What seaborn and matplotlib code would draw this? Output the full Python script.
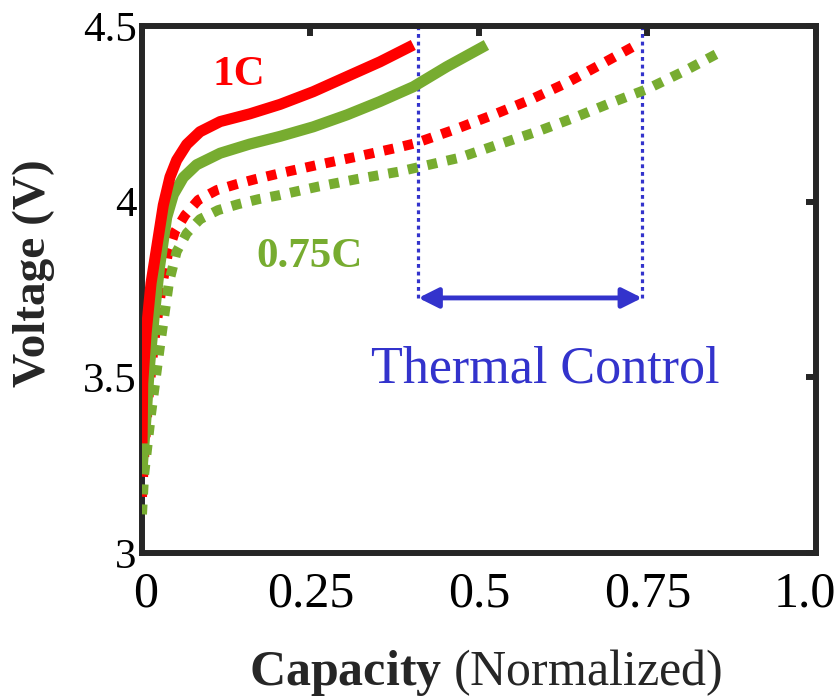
import numpy as np
import pandas as pd
import matplotlib
matplotlib.use("Agg")
import matplotlib.pyplot as plt
import matplotlib.transforms as mtransforms
import seaborn as sns

# Charge curves: voltage vs normalized capacity
cap_1c = [0.0, 0.001, 0.006, 0.0134, 0.0218, 0.0316, 0.0415, 0.0514, 0.0663,
          0.086, 0.116, 0.160, 0.205, 0.254, 0.304, 0.353, 0.4025]
volt_1c = [3.312, 3.483, 3.625, 3.768, 3.87, 3.99, 4.07, 4.118, 4.163,
           4.199, 4.228, 4.250, 4.277, 4.313, 4.356, 4.398, 4.446]

cap_075c = [0.0, 0.006, 0.011, 0.018, 0.0257, 0.0366, 0.0465, 0.0613, 0.081,
            0.116, 0.160, 0.205, 0.254, 0.304, 0.353, 0.4025, 0.452, 0.511]
volt_075c = [3.236, 3.388, 3.53, 3.673, 3.81, 3.955, 4.02, 4.069, 4.105,
             4.138, 4.164, 4.186, 4.213, 4.247, 4.285, 4.327, 4.384, 4.446]

cap_1c_tc = [0.0, 0.004, 0.010, 0.018, 0.028, 0.039, 0.049, 0.064, 0.0836,
             0.111, 0.1405, 0.170, 0.205, 0.259, 0.3185, 0.375, 0.405, 0.462,
             0.521, 0.576, 0.630, 0.684, 0.739]
volt_1c_tc = [3.16, 3.30, 3.45, 3.60, 3.74, 3.858, 3.915, 3.962, 4.005,
              4.033, 4.050, 4.065, 4.081, 4.104, 4.128, 4.152, 4.166, 4.204,
              4.247, 4.29, 4.338, 4.394, 4.452]

cap_075c_tc = [0.0, 0.003, 0.013, 0.026, 0.040, 0.0514, 0.0663, 0.086, 0.113,
               0.143, 0.1726, 0.205, 0.2616, 0.321, 0.380, 0.41, 0.469, 0.526,
               0.5856, 0.640, 0.694, 0.749, 0.808, 0.862]
volt_075c_tc = [3.11, 3.22, 3.39, 3.58, 3.77, 3.858, 3.910, 3.950, 3.976,
                3.993, 4.007, 4.019, 4.043, 4.065, 4.085, 4.098, 4.124, 4.161,
                4.199, 4.238, 4.28, 4.32, 4.375, 4.43]

# Thermal-control window
tc_start = 0.41
tc_end = 0.742
tc_arrow_v = 3.726

x_ticks = [0, 0.25, 0.5, 0.75, 1.0]
x_tick_labels = ["0", "0.25", "0.5", "0.75", "1.0"]
y_ticks = [3, 3.5, 4, 4.5]
y_tick_labels = ["3", "3.5", "4", "4.5"]

RED = "#FF0000"
GREEN = "#77AC30"
BLUE = "#3333CC"
SPINE = "#262626"

sns.set_theme(style="white")
plt.rcParams["font.family"] = ["Liberation Serif", "DejaVu Serif"]
plt.rcParams["mathtext.fontset"] = "custom"
plt.rcParams["mathtext.rm"] = "Liberation Serif"
plt.rcParams["mathtext.bf"] = "Liberation Serif:bold"

fig = plt.figure(figsize=(8.37, 6.99), dpi=100)
ax = fig.add_axes([142 / 837, 1 - 553 / 699, 674 / 837, 527 / 699])

series = [
    (cap_1c_tc, volt_1c_tc, RED, "dot"),
    (cap_075c_tc, volt_075c_tc, GREEN, "dot"),
    (cap_075c, volt_075c, GREEN, "solid"),
    (cap_1c, volt_1c, RED, "solid"),
]
for xs, ys, col, kind in series:
    df = pd.DataFrame({"Capacity": xs, "Voltage": ys})
    if kind == "solid":
        sns.lineplot(data=df, x="Capacity", y="Voltage", ax=ax, color=col,
                     lw=8, sort=False, estimator=None, solid_capstyle="butt",
                     solid_joinstyle="round", zorder=3)
    else:
        sns.lineplot(data=df, x="Capacity", y="Voltage", ax=ax, color=col,
                     lw=7.2, sort=False, estimator=None, linestyle=(0, (1, 1)),
                     dash_capstyle="butt", zorder=3)

# Window boundaries and span arrow
for xv in (tc_start, tc_end):
    ax.plot([xv, xv], [tc_arrow_v, 4.5], color=BLUE, lw=2.3,
            linestyle=(0, (1.2, 1.2)), dash_capstyle="butt", zorder=2,
            clip_on=False)
ax.annotate("", xy=(tc_start, tc_arrow_v), xytext=(tc_end, tc_arrow_v),
            arrowprops=dict(arrowstyle="<|-|>", color=BLUE, lw=3.5,
                            mutation_scale=30, shrinkA=0, shrinkB=0))

ax.text(0.144, 4.332, "1C", color=RED, fontsize=31, fontweight="bold",
        ha="center", va="baseline")
ax.text(0.249, 3.814, "0.75C", color=GREEN, fontsize=31, fontweight="bold",
        ha="center", va="baseline")
ax.text(0.599, 3.484, "Thermal Control", color=BLUE, fontsize=37.5,
        ha="center", va="baseline")

ax.set_xlim(0, 1)
ax.set_ylim(3, 4.5)
ax.set_xticks(x_ticks)
ax.set_xticklabels(x_tick_labels)
ax.set_yticks(y_ticks)
ax.set_yticklabels(y_tick_labels)
ax.tick_params(axis="both", direction="in", top=True, right=True,
               length=7, width=4.3, color=SPINE, labelcolor="black")
ax.tick_params(axis="x", labelsize=36, pad=13)
ax.tick_params(axis="y", labelsize=31, pad=4)
for sp in ax.spines.values():
    sp.set_visible(True)
    sp.set_color(SPINE)
    sp.set_linewidth(4.3)
ax.set_xlabel("")
ax.set_ylabel("")

# nudge the end labels so they sit inside the figure
xlabels = ax.get_xticklabels()
xlabels[0].set_transform(xlabels[0].get_transform() +
                         mtransforms.ScaledTranslation(4 / 100, 0, fig.dpi_scale_trans))
xlabels[-1].set_transform(xlabels[-1].get_transform() +
                          mtransforms.ScaledTranslation(-11 / 100, 0, fig.dpi_scale_trans))

fig.text(34 / 837, 1 - 273 / 699, "Voltage (V)", rotation=90, fontsize=34,
         fontweight="bold", ha="center", va="center")
fig.text(486 / 837, 1 - 672 / 699, r"$\mathbf{Capacity}$ (Normalized)",
         fontsize=36, ha="center", va="center")

fig.savefig("out.png", dpi=100)
